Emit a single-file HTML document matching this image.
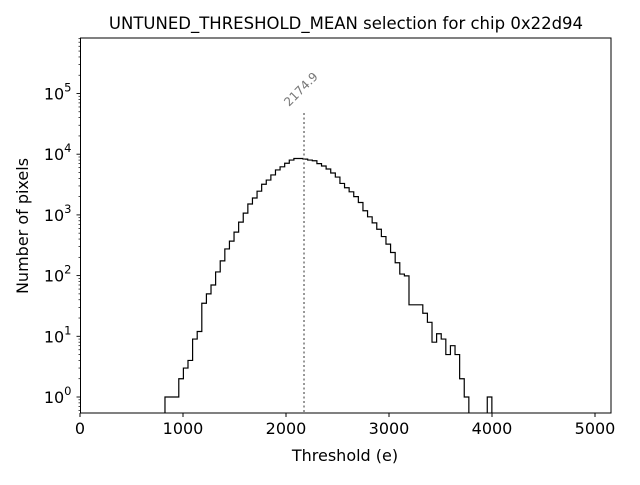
<!DOCTYPE html>
<html><head><meta charset="utf-8"><style>
body{margin:0;background:#fff;}
svg text{font-family:"DejaVu Sans","Liberation Sans",sans-serif;}
</style></head><body>
<svg id="chart" width="640" height="480" xmlns="http://www.w3.org/2000/svg">
<rect width="640" height="480" fill="#fff"/>
<text x="346" y="29" font-size="16.5" text-anchor="middle">UNTUNED_THRESHOLD_MEAN selection for chip 0x22d94</text>
<g id="plot"></g>
<text x="345" y="461" font-size="16" text-anchor="middle">Threshold (e)</text>
<text transform="translate(28,226) rotate(-90)" font-size="16" text-anchor="middle">Number of pixels</text>
</svg>
<script>
const binStart = 825;
const binWidth = 44.7;
const counts = [1,1,1,2,3,4,9,12,35,50,70,115,175,275,370,520,760,1070,1510,1900,2460,3200,3750,4550,5500,6200,7100,8000,8500,8500,
8300,8000,7800,7000,6400,5700,4900,4200,3300,2800,2400,2000,1600,1170,930,740,580,440,330,240,163,106,99,33,33,33,24,17,8,11,9,5,7,5,2,1,
0,0,0,0,1];
const meanValue = 2174.9;
const xTicks = [0,1000,2000,3000,4000,5000];
const yTickExps = [0,1,2,3,4,5];

const L=80.5,R=611,T=38,B=413;
const X0=80, XS=0.103;
function xs(v){return X0+v*XS;}
function ys(v){return 397-Math.log10(v)*60.7;}
const NS="http://www.w3.org/2000/svg";
const g=document.getElementById('plot');
function mk(t,a){const e=document.createElementNS(NS,t);for(const k in a)e.setAttribute(k,a[k]);g.appendChild(e);return e;}

const defs=mk('defs',{});
const cp=document.createElementNS(NS,'clipPath');cp.setAttribute('id','pc');
const cr=document.createElementNS(NS,'rect');cr.setAttribute('x',L);cr.setAttribute('y',T);cr.setAttribute('width',R-L);cr.setAttribute('height',B-T);
cp.appendChild(cr);defs.appendChild(cp);

let d='M'+xs(binStart)+','+B;
for(let i=0;i<counts.length;i++){
  const x0=xs(binStart+i*binWidth),x1=xs(binStart+(i+1)*binWidth);
  const y=counts[i]>0?ys(counts[i]):B+5;
  d+=' L'+x0+','+y+' L'+x1+','+y;
}
d+=' L'+xs(binStart+counts.length*binWidth)+','+(B+5);
const hp=mk('path',{d:d,fill:'none',stroke:'#000','stroke-width':1.2,'clip-path':'url(#pc)'});



const mx=xs(meanValue);
const ml=mk('line',{x1:mx,x2:mx,y1:113,y2:B,stroke:'#777','stroke-width':1.5,'stroke-dasharray':'2,2.5'});


const mt=mk('text',{x:0,y:0,'font-size':12,fill:'#777',transform:'translate('+(mx-15)+',107) rotate(-45)'});
mt.textContent=meanValue.toFixed(1);



const fr=mk('rect',{x:L,y:T,width:R-L,height:B-T,fill:'none',stroke:'#000','stroke-width':1});



xTicks.forEach(v=>{
  const x=xs(v);
  mk('line',{x1:x,x2:x,y1:B,y2:B+4,stroke:'#000'});
  const t=mk('text',{x:x,y:B+21,'font-size':16,'text-anchor':'middle'});
  t.textContent=v;
  
  
});
for(let e=-1;e<=5;e++){
  for(let m=1;m<10;m++){
    const v=m*Math.pow(10,e);const y=ys(v);
    if(y<T||y>B)continue;
    mk('line',{x1:L,x2:L-(m===1?4:2),y1:y,y2:y,stroke:'#000','stroke-width':m===1?0.9:0.7});
  }
}
yTickExps.forEach(e=>{
  const y=ys(Math.pow(10,e));
  const t=mk('text',{x:L-9,y:y+6,'font-size':16,'text-anchor':'end'});
  t.innerHTML='10<tspan dy="-8" font-size="11.5">'+e+'</tspan>';
  
  
});
</script>
</body></html>
